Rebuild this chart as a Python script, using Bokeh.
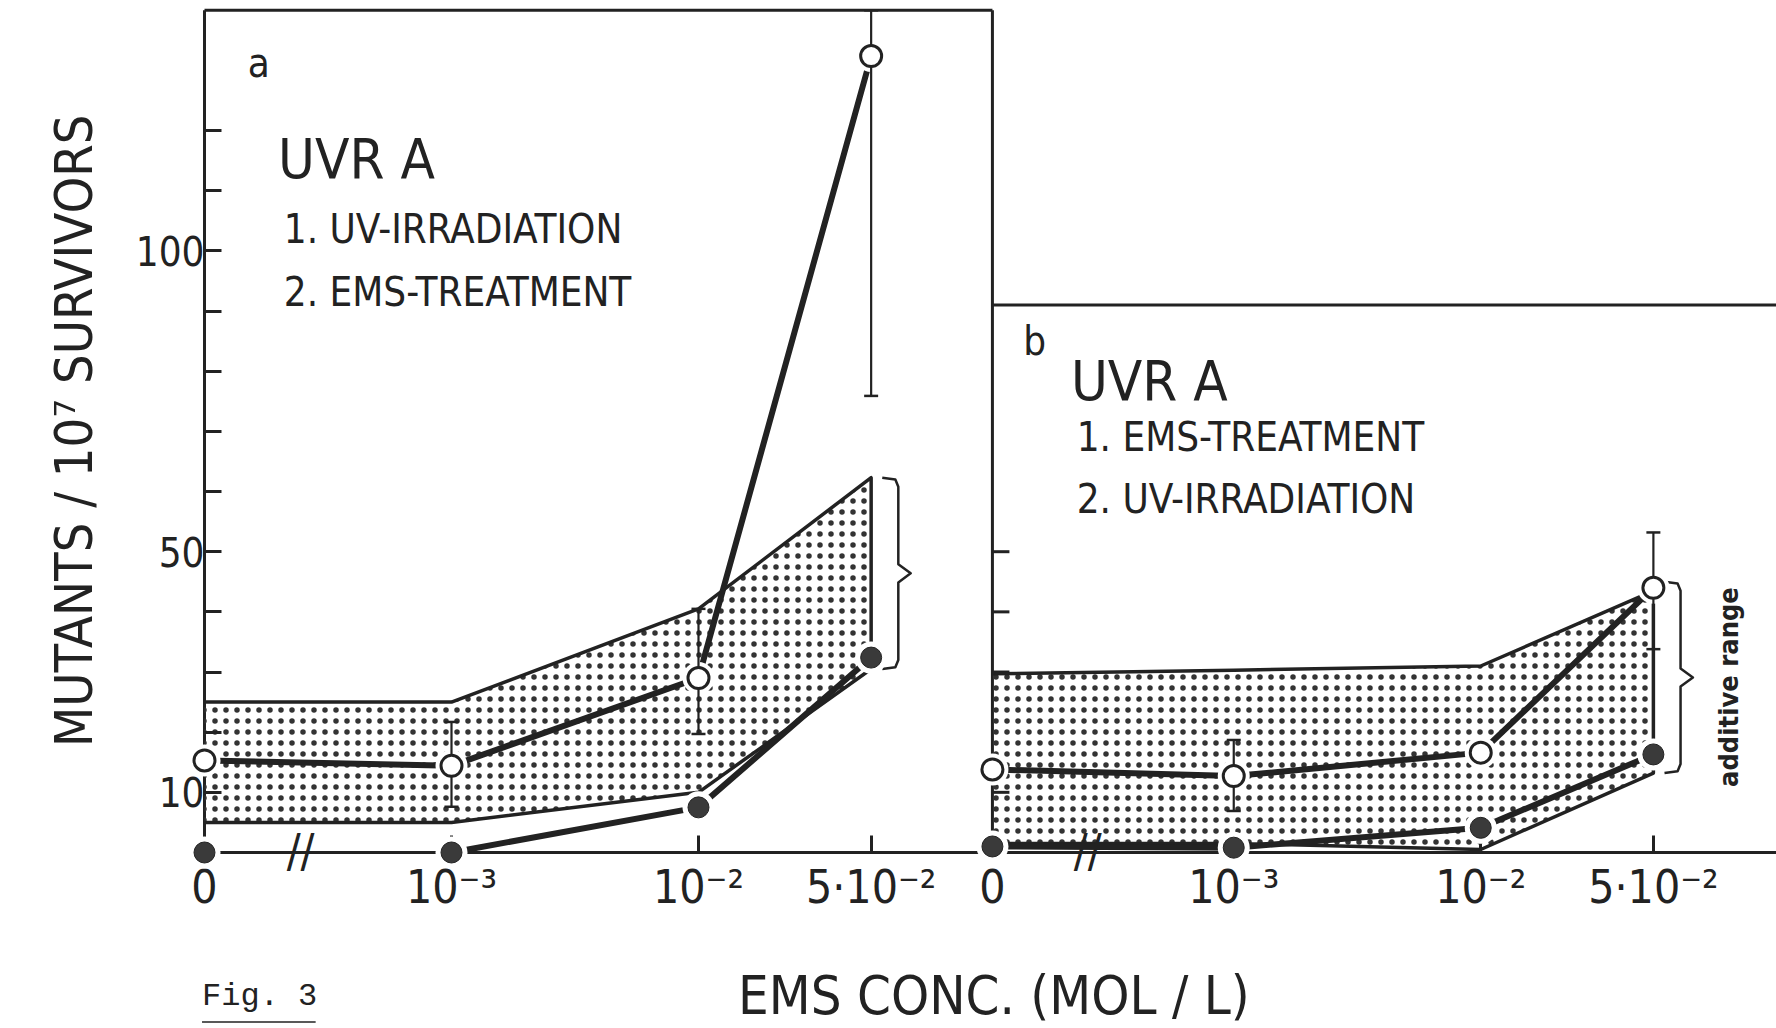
import math
from bokeh.plotting import figure
from bokeh.models import Label, FixedTicker, Range1d
from bokeh.embed import file_html
from bokeh.resources import INLINE

# ---------------- data ----------------
CONC = [0.0, 1e-3, 1e-2, 5e-2]                 # EMS concentration (mol/l)
X_LABELS = ["0", "10⁻³", "10⁻²", "5·10⁻²"]

# panel a : 1. UV-irradiation, 2. EMS-treatment
OPEN_A = [15.3, 14.4, 29.0, 132.4]              # combined treatment (open circles)
OPEN_A_LO = [None, 7.6, 19.7, 75.9]
OPEN_A_HI = [None, 21.7, 40.5, 140.0]
FILLED_A = [0.0, 0.0, 7.5, 32.4]                # EMS alone (filled circles)
RANGE_A_UP = [25.0, 25.0, 40.5, 62.3]           # additive range, upper limit
RANGE_A_LO = [5.0, 5.0, 10.0, 30.5]             # additive range, lower limit

# panel b : 1. EMS-treatment, 2. UV-irradiation
OPEN_B = [13.8, 12.7, 16.6, 44.0]
OPEN_B_LO = [None, 6.9, None, 33.8]
OPEN_B_HI = [None, 18.7, None, 53.2]
FILLED_B = [1.0, 0.8, 4.1, 16.3]
RANGE_B_UP = [29.7, 30.3, 31.0, 43.5]
RANGE_B_LO = [1.5, 1.5, 0.5, 13.2]

Y_TICKS = [10, 20, 30, 40, 50, 60, 70, 80, 90, 100, 110, 120]
Y_LABELED = [10, 50, 100]
B_TICKS = [10, 30, 40, 50]

# ---------------- layout constants ----------------
ZERO_A = -4.0        # where concentration 0 is placed in panel a (axis break)
ZERO_B = -3.977      # same for panel b
B_SHIFT = 3.167      # horizontal shift of panel b, in decades
X0, X1 = -4.8259, 2.3644
Y0, Y1 = -29.26, 141.63
A_TOP = 140.0
B_TOP = 91.0
PX_PER_DEC = 247.0

FONT = "'DejaVu Sans Condensed', Roboto, sans-serif"
INK = "#222222"


def pos(c, shift, zero):
    return (math.log10(c) if c > 0 else zero) + shift


XA = [pos(c, 0.0, ZERO_A) for c in CONC]
XB = [pos(c, B_SHIFT, ZERO_B) for c in CONC]
U_A0 = ZERO_A
U_B0 = ZERO_B + B_SHIFT

p = figure(width=1776, height=1028, x_range=Range1d(X0, X1), y_range=Range1d(Y0, Y1),
           output_backend="svg", toolbar_location=None,
           min_border_left=0, min_border_right=0, min_border_top=0, min_border_bottom=0)
p.outline_line_color = None
p.xgrid.visible = False
p.ygrid.visible = False
p.background_fill_color = "white"
p.border_fill_color = "white"

# ---------------- axes ----------------
ya = p.yaxis[0]
ya.fixed_location = U_A0
ya.ticker = FixedTicker(ticks=Y_TICKS)
ya.major_label_overrides = {t: (str(t) if t in Y_LABELED else "") for t in Y_TICKS}
ya.major_tick_in = 17
ya.major_tick_out = 0
ya.minor_tick_line_color = None
ya.axis_line_color = None
ya.major_tick_line_width = 3
ya.major_tick_line_color = INK
ya.major_label_text_font = FONT
ya.major_label_text_font_size = "40px"
ya.major_label_text_color = INK
ya.major_label_standoff = 0

xa = p.xaxis[0]
xticks = XA + XB
xa.fixed_location = 0
xa.ticker = FixedTicker(ticks=xticks)
xa.major_label_overrides = {t: lab for t, lab in zip(xticks, X_LABELS + X_LABELS)}
xa.axis_line_color = None
xa.major_tick_in = 17
xa.major_tick_out = 0
xa.major_tick_line_width = 3
xa.major_tick_line_color = INK
xa.minor_tick_line_color = None
xa.major_label_text_font = FONT
xa.major_label_text_font_size = "46px"
xa.major_label_text_color = INK
xa.major_label_standoff = 8

# axis lines, panel frames and ticks of panel b
p.segment(x0=[U_A0, U_A0, U_A0, U_B0, U_B0], y0=[0, 0, A_TOP, 0, B_TOP],
          x1=[X1, U_A0, U_B0, U_B0, X1], y1=[0, A_TOP, A_TOP, A_TOP, B_TOP],
          line_width=3, line_color=INK)
tick_len_u = 17 / PX_PER_DEC
p.segment(x0=[U_B0] * len(B_TICKS), y0=B_TICKS, x1=[U_B0 + tick_len_u] * len(B_TICKS), y1=B_TICKS,
          line_width=3, line_color=INK)

# ---------------- additive range (dotted areas) ----------------
for X, up, lo in ((XA, RANGE_A_UP, RANGE_A_LO), (XB, RANGE_B_UP, RANGE_B_LO)):
    p.patch(X + X[::-1], up + lo[::-1], fill_color="white", fill_alpha=0.0, line_color=None,
            hatch_pattern="dot", hatch_color="#333333", hatch_scale=11, hatch_weight=1.0)
    p.line(X + X[::-1], up + lo[::-1], line_width=3.5, line_color=INK, line_join="round")


def brace(x0, lo, hi):
    xa_, xs, xt = x0 + 0.045, x0 + 0.11, x0 + 0.16
    mid = (lo + hi) / 2
    bx = [xa_, xs - 0.012, xs, xs, xt, xs, xs, xs - 0.012, xa_]
    by = [hi, hi - 0.3, hi - 1.5, mid + 1.5, mid, mid - 1.5, lo + 1.5, lo + 0.3, lo]
    p.line(bx, by, line_width=2.5, line_color=INK, line_join="round")


brace(XA[3], RANGE_A_LO[3], RANGE_A_UP[3])
brace(XB[3], RANGE_B_LO[3], RANGE_B_UP[3] + 1.5)

# ---------------- data lines ----------------
LW = 6
p.line(XA, OPEN_A, line_width=LW, line_color=INK, line_cap="round", line_join="round")
p.line(XA[1:], FILLED_A[1:], line_width=LW, line_color=INK, line_cap="round", line_join="round")
p.line(XB, OPEN_B, line_width=LW, line_color=INK, line_cap="round", line_join="round")
p.line(XB, FILLED_B, line_width=LW, line_color=INK, line_cap="round", line_join="round")

# white halos that open gaps around the markers
hx = XA + XA + XB + XB
hy = OPEN_A + FILLED_A + OPEN_B + FILLED_B
p.scatter(hx, hy, size=32, fill_color="white", line_color=None, level="overlay")

# error bars
ex, elo, ehi = [], [], []
for X, lo_l, hi_l in ((XA, OPEN_A_LO, OPEN_A_HI), (XB, OPEN_B_LO, OPEN_B_HI)):
    for x, lo, hi in zip(X, lo_l, hi_l):
        if lo is not None:
            ex.append(x); elo.append(lo); ehi.append(hi)
p.segment(x0=ex, y0=elo, x1=ex, y1=ehi, line_width=2.2, line_color=INK, level="overlay")
p.scatter(ex + ex, elo + ehi, marker="dash", size=14, line_width=2.5, line_color=INK, level="overlay")

# markers
p.scatter(XA + XB, OPEN_A + OPEN_B, size=21, fill_color="white", line_color=INK, line_width=3,
          level="overlay")
p.scatter(XA + XB, FILLED_A + FILLED_B, size=21, fill_color="#3a3a3a", line_color=INK, line_width=1,
          level="overlay")


# ---------------- texts ----------------
def lab(text, x, y, size, align="left", baseline="middle", angle=0.0, font=FONT, style="normal"):
    p.add_layout(Label(x=x, y=y, text=text, text_font=font, text_font_size=size,
                       text_color=INK, text_align=align, text_baseline=baseline,
                       angle=angle, text_font_style=style))


lab("a", -3.780, 131.3, "40px", align="center")
lab("UVR A", -3.702, 115.3, "56px")
lab("1. UV-IRRADIATION", -3.679, 103.6, "40px")
lab("2. EMS-TREATMENT", -3.679, 93.2, "40px")

lab("b", -0.639, 85.1, "40px", align="center")
lab("UVR A", -0.492, 78.5, "56px")
lab("1. EMS-TREATMENT", -0.469, 69.1, "40px")
lab("2. UV-IRRADIATION", -0.469, 58.8, "40px")

lab("additive range", 2.172, 27.5, "27px", align="center", angle=math.pi / 2, style="bold")

lab("MUTANTS / 10⁷ SURVIVORS", -4.528, 70.1, "52px", align="center", angle=math.pi / 2)
lab("EMS CONC. (MOL / L)", -0.804, -23.7, "54px", align="center")

lab("//", -3.611, 0.3, "46px", align="center")
lab("//", -0.424, 0.3, "46px", align="center")

lab("Fig. 3", -4.010, -23.9, "32px", font="Liberation Mono")
# underline of "Fig. 3"
p.segment(x0=[-4.010], y0=[-28.2], x1=[-4.010 + 0.46], y1=[-28.2], line_width=1.5, line_color=INK)

open("out.html", "w").write(file_html(p, INLINE, title="Fig. 3"))
